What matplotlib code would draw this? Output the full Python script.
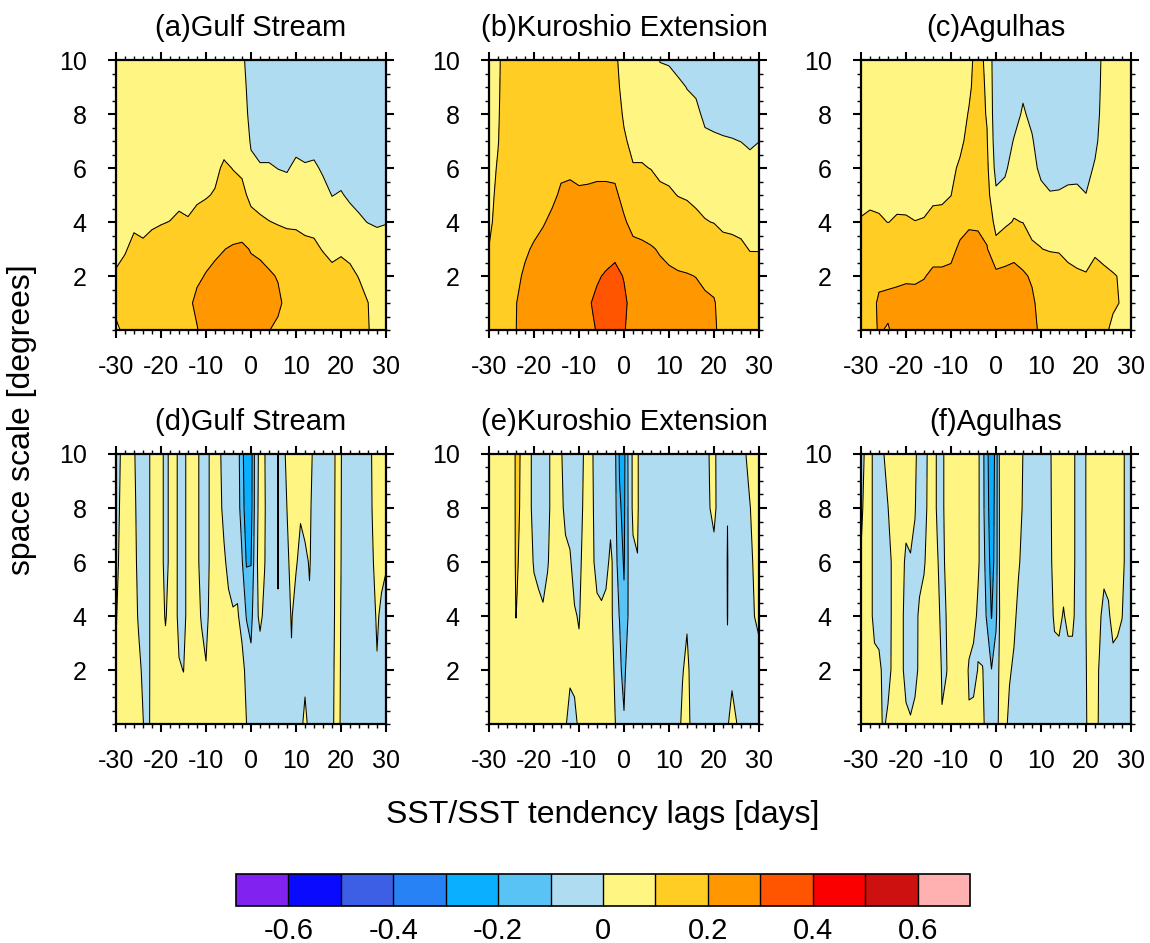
import numpy as np
import matplotlib
matplotlib.use('Agg')
import matplotlib as mpl
import matplotlib.pyplot as plt
from matplotlib.colors import ListedColormap, BoundaryNorm
from matplotlib.ticker import MultipleLocator

plt.rcParams['font.family'] = ['Liberation Sans', 'DejaVu Sans']
plt.rcParams['axes.unicode_minus'] = False

# ---------------- data ----------------
levels = [-0.7, -0.6, -0.5, -0.4, -0.3, -0.2, -0.1, 0.0, 0.1, 0.2, 0.3, 0.4, 0.5, 0.6, 0.7]
colors = ['#8222F0', '#0A0AFF', '#3C5FE6', '#2682F5', '#0AAFFF', '#5AC3F5', '#B0DCF2',
          '#FFF582', '#FFCD23', '#FF9800', '#FF5500', '#FA0000', '#CD1010', '#FFB0B0']
cbar_ticks = [-0.6, -0.4, -0.2, 0, 0.2, 0.4, 0.6]
cbar_labels = ['-0.6', '-0.4', '-0.2', '0', '0.2', '0.4', '0.6']

titles = ['(a)Gulf Stream', '(b)Kuroshio Extension', '(c)Agulhas',
          '(d)Gulf Stream', '(e)Kuroshio Extension', '(f)Agulhas']

# top row: lags every 2 days, space scales every 1 degree
lags_top = [-30, -28, -26, -24, -22, -20, -18, -16, -14, -12, -10, -8, -6, -4, -2, 0,
            2, 4, 6, 8, 10, 12, 14, 16, 18, 20, 22, 24, 26, 28, 30]
scales_top = [0, 1, 2, 3, 4, 5, 6, 7, 8, 9, 10]
# bottom row: lags every day, space scales every 2 degrees
lags_bot = [-30, -29, -28, -27, -26, -25, -24, -23, -22, -21, -20, -19, -18, -17, -16,
            -15, -14, -13, -12, -11, -10, -9, -8, -7, -6, -5, -4, -3, -2, -1, 0,
            1, 2, 3, 4, 5, 6, 7, 8, 9, 10, 11, 12, 13, 14, 15, 16, 17, 18, 19, 20,
            21, 22, 23, 24, 25, 26, 27, 28, 29, 30]
scales_bot = [0, 2, 4, 6, 8, 10]

# each inner list = one lag column, values from bottom (scale 0) to top (scale 10)
gs_top = [
    [0.09, 0.115, 0.104, 0.09, 0.08, 0.07, 0.065, 0.06, 0.055, 0.05, 0.05],
    [0.112, 0.125, 0.12, 0.095, 0.08, 0.07, 0.065, 0.06, 0.055, 0.05, 0.05],
    [0.16, 0.15, 0.135, 0.115, 0.09, 0.075, 0.07, 0.065, 0.06, 0.055, 0.05],
    [0.17, 0.16, 0.14, 0.11, 0.085, 0.075, 0.07, 0.065, 0.06, 0.055, 0.05],
    [0.175, 0.165, 0.145, 0.115, 0.094, 0.08, 0.07, 0.065, 0.06, 0.055, 0.05],
    [0.18, 0.17, 0.15, 0.125, 0.097, 0.08, 0.075, 0.07, 0.06, 0.055, 0.05],
    [0.185, 0.175, 0.16, 0.13, 0.101, 0.08, 0.075, 0.07, 0.06, 0.055, 0.05],
    [0.19, 0.18, 0.165, 0.14, 0.11, 0.085, 0.075, 0.07, 0.06, 0.055, 0.05],
    [0.185, 0.18, 0.165, 0.135, 0.105, 0.08, 0.075, 0.07, 0.06, 0.055, 0.05],
    [0.195, 0.22, 0.185, 0.15, 0.118, 0.09, 0.08, 0.07, 0.065, 0.06, 0.05],
    [0.24, 0.235, 0.205, 0.17, 0.13, 0.095, 0.085, 0.075, 0.065, 0.06, 0.055],
    [0.25, 0.245, 0.22, 0.185, 0.15, 0.105, 0.085, 0.075, 0.07, 0.06, 0.055],
    [0.26, 0.25, 0.23, 0.198, 0.175, 0.145, 0.11, 0.077, 0.07, 0.06, 0.055],
    [0.27, 0.26, 0.24, 0.21, 0.15, 0.125, 0.098, 0.08, 0.07, 0.06, 0.05],
    [0.275, 0.265, 0.245, 0.215, 0.155, 0.115, 0.09, 0.07, 0.05, 0.035, 0.02],
    [0.27, 0.255, 0.225, 0.195, 0.12, 0.085, 0.02, -0.01, -0.03, -0.04, -0.05],
    [0.25, 0.235, 0.215, 0.19, 0.11, 0.075, 0.01, -0.04, -0.05, -0.055, -0.06],
    [0.202, 0.22, 0.21, 0.17, 0.102, 0.062, 0.01, -0.04, -0.05, -0.055, -0.06],
    [0.185, 0.215, 0.195, 0.14, 0.095, 0.045, -0.002, -0.03, -0.045, -0.05, -0.055],
    [0.17, 0.18, 0.165, 0.13, 0.09, 0.04, -0.008, -0.03, -0.045, -0.05, -0.055],
    [0.165, 0.16, 0.15, 0.125, 0.09, 0.06, 0.02, -0.03, -0.045, -0.05, -0.055],
    [0.16, 0.155, 0.14, 0.115, 0.085, 0.06, 0.01, -0.04, -0.05, -0.055, -0.06],
    [0.155, 0.15, 0.135, 0.11, 0.085, 0.06, 0.015, -0.035, -0.05, -0.055, -0.06],
    [0.15, 0.14, 0.125, 0.097, 0.07, 0.03, -0.013, -0.04, -0.05, -0.055, -0.06],
    [0.14, 0.13, 0.11, 0.09, 0.04, -0.002, -0.03, -0.045, -0.05, -0.055, -0.06],
    [0.14, 0.13, 0.115, 0.094, 0.06, 0.006, -0.03, -0.045, -0.05, -0.055, -0.06],
    [0.135, 0.125, 0.11, 0.088, 0.03, -0.013, -0.04, -0.05, -0.055, -0.06, -0.06],
    [0.125, 0.115, 0.098, 0.06, 0.01, -0.02, -0.04, -0.05, -0.055, -0.06, -0.06],
    [0.103, 0.1005, 0.085, 0.05, -0.002, -0.03, -0.045, -0.05, -0.055, -0.06, -0.06],
    [0.08, 0.08, 0.07, 0.02, -0.005, -0.03, -0.045, -0.05, -0.055, -0.06, -0.06],
    [0.07, 0.07, 0.06, 0.02, -0.002, -0.03, -0.045, -0.05, -0.055, -0.06, -0.06],
]

ke_top = [
    [0.15, 0.14, 0.125, 0.102, 0.085, 0.08, 0.075, 0.07, 0.07, 0.065, 0.06],
    [0.16, 0.155, 0.145, 0.135, 0.125, 0.115, 0.106, 0.097, 0.093, 0.09, 0.088],
    [0.185, 0.18, 0.17, 0.16, 0.155, 0.15, 0.145, 0.14, 0.14, 0.138, 0.136],
    [0.199, 0.198, 0.185, 0.175, 0.165, 0.16, 0.155, 0.15, 0.145, 0.14, 0.14],
    [0.23, 0.225, 0.21, 0.19, 0.175, 0.165, 0.16, 0.155, 0.15, 0.145, 0.14],
    [0.245, 0.24, 0.23, 0.208, 0.18, 0.17, 0.165, 0.16, 0.155, 0.15, 0.145],
    [0.255, 0.25, 0.24, 0.225, 0.194, 0.175, 0.17, 0.165, 0.16, 0.155, 0.15],
    [0.26, 0.255, 0.25, 0.235, 0.215, 0.185, 0.175, 0.17, 0.165, 0.16, 0.155],
    [0.27, 0.265, 0.255, 0.245, 0.23, 0.21, 0.187, 0.18, 0.175, 0.17, 0.165],
    [0.28, 0.275, 0.265, 0.25, 0.235, 0.213, 0.19, 0.18, 0.175, 0.17, 0.165],
    [0.29, 0.285, 0.27, 0.255, 0.235, 0.208, 0.185, 0.18, 0.175, 0.17, 0.165],
    [0.295, 0.295, 0.28, 0.26, 0.24, 0.21, 0.185, 0.18, 0.175, 0.17, 0.165],
    [0.301, 0.309, 0.295, 0.27, 0.25, 0.215, 0.185, 0.18, 0.175, 0.17, 0.165],
    [0.33, 0.325, 0.305, 0.28, 0.255, 0.215, 0.185, 0.175, 0.17, 0.165, 0.16],
    [0.34, 0.335, 0.315, 0.285, 0.25, 0.215, 0.18, 0.16, 0.14, 0.125, 0.115],
    [0.31, 0.31, 0.297, 0.265, 0.21, 0.175, 0.14, 0.11, 0.09, 0.075, 0.065],
    [0.243, 0.281, 0.26, 0.222, 0.175, 0.15, 0.105, 0.08, 0.07, 0.065, 0.06],
    [0.25, 0.245, 0.235, 0.215, 0.17, 0.14, 0.105, 0.08, 0.07, 0.065, 0.06],
    [0.245, 0.24, 0.225, 0.205, 0.17, 0.135, 0.098, 0.08, 0.07, 0.06, 0.055],
    [0.24, 0.235, 0.215, 0.195, 0.16, 0.115, 0.085, 0.06, 0.04, 0.02, -0.002],
    [0.235, 0.23, 0.21, 0.185, 0.14, 0.11, 0.08, 0.055, 0.04, 0.018, -0.005],
    [0.23, 0.225, 0.205, 0.18, 0.135, 0.098, 0.08, 0.06, 0.04, 0.015, -0.025],
    [0.225, 0.22, 0.203, 0.175, 0.12, 0.095, 0.075, 0.05, 0.022, -0.002, -0.03],
    [0.22, 0.215, 0.199, 0.16, 0.115, 0.085, 0.07, 0.045, 0.016, -0.012, -0.035],
    [0.22, 0.213, 0.185, 0.15, 0.103, 0.08, 0.05, 0.015, -0.015, -0.035, -0.045],
    [0.212, 0.205, 0.18, 0.14, 0.098, 0.075, 0.045, 0.01, -0.02, -0.035, -0.045],
    [0.172, 0.172, 0.16, 0.125, 0.085, 0.06, 0.035, 0.005, -0.02, -0.035, -0.045],
    [0.165, 0.16, 0.15, 0.12, 0.083, 0.06, 0.035, 0.003, -0.025, -0.035, -0.045],
    [0.16, 0.155, 0.14, 0.112, 0.08, 0.055, 0.03, -0.001, -0.025, -0.035, -0.045],
    [0.15, 0.145, 0.13, 0.097, 0.07, 0.05, 0.025, -0.012, -0.03, -0.04, -0.05],
    [0.15, 0.145, 0.128, 0.097, 0.07, 0.05, 0.03, -0.001, -0.02, -0.03, -0.04],
]

ag_top = [
    [0.17, 0.165, 0.155, 0.135, 0.105, 0.08, 0.07, 0.065, 0.06, 0.055, 0.05],
    [0.18, 0.175, 0.165, 0.145, 0.112, 0.085, 0.075, 0.07, 0.065, 0.06, 0.055],
    [0.205, 0.21, 0.185, 0.15, 0.107, 0.085, 0.075, 0.07, 0.065, 0.06, 0.055],
    [0.195, 0.215, 0.185, 0.145, 0.099, 0.08, 0.075, 0.07, 0.065, 0.06, 0.055],
    [0.22, 0.215, 0.19, 0.15, 0.106, 0.085, 0.075, 0.07, 0.065, 0.06, 0.055],
    [0.225, 0.22, 0.192, 0.15, 0.107, 0.08, 0.075, 0.07, 0.065, 0.06, 0.055],
    [0.225, 0.22, 0.191, 0.145, 0.101, 0.08, 0.075, 0.07, 0.065, 0.06, 0.055],
    [0.23, 0.222, 0.197, 0.15, 0.104, 0.08, 0.075, 0.07, 0.065, 0.06, 0.055],
    [0.235, 0.23, 0.21, 0.18, 0.115, 0.09, 0.08, 0.075, 0.07, 0.065, 0.06],
    [0.235, 0.23, 0.21, 0.18, 0.118, 0.09, 0.08, 0.075, 0.07, 0.065, 0.06],
    [0.24, 0.235, 0.213, 0.185, 0.13, 0.099, 0.085, 0.075, 0.07, 0.065, 0.06],
    [0.255, 0.25, 0.235, 0.21, 0.18, 0.14, 0.11, 0.085, 0.075, 0.07, 0.065],
    [0.265, 0.26, 0.245, 0.225, 0.19, 0.165, 0.14, 0.12, 0.104, 0.09, 0.085],
    [0.265, 0.26, 0.245, 0.22, 0.19, 0.17, 0.155, 0.145, 0.135, 0.128, 0.122],
    [0.25, 0.245, 0.23, 0.205, 0.17, 0.135, 0.12, 0.106, 0.094, 0.09, 0.085],
    [0.24, 0.232, 0.223, 0.13, 0.07, 0.015, -0.03, -0.05, -0.06, -0.065, -0.07],
    [0.24, 0.235, 0.222, 0.16, 0.085, 0.03, -0.015, -0.04, -0.055, -0.06, -0.065],
    [0.245, 0.24, 0.215, 0.185, 0.105, 0.07, 0.04, 0.005, -0.03, -0.05, -0.06],
    [0.24, 0.232, 0.208, 0.17, 0.098, 0.07, 0.05, 0.03, 0.01, -0.015, -0.04],
    [0.215, 0.21, 0.193, 0.11, 0.08, 0.06, 0.035, 0.008, -0.02, -0.04, -0.055],
    [0.19, 0.18, 0.16, 0.101, 0.085, 0.03, -0.025, -0.045, -0.055, -0.06, -0.065],
    [0.17, 0.165, 0.145, 0.095, 0.05, 0.005, -0.03, -0.05, -0.06, -0.065, -0.065],
    [0.165, 0.16, 0.14, 0.093, 0.05, 0.007, -0.03, -0.05, -0.06, -0.065, -0.065],
    [0.16, 0.15, 0.115, 0.085, 0.05, 0.015, -0.025, -0.05, -0.06, -0.065, -0.065],
    [0.155, 0.145, 0.108, 0.08, 0.05, 0.017, -0.025, -0.05, -0.06, -0.065, -0.065],
    [0.15, 0.14, 0.104, 0.077, 0.045, 0.002, -0.03, -0.05, -0.06, -0.065, -0.065],
    [0.155, 0.145, 0.12, 0.091, 0.07, 0.045, 0.01, -0.02, -0.04, -0.05, -0.06],
    [0.115, 0.12, 0.11, 0.085, 0.07, 0.06, 0.05, 0.045, 0.04, 0.035, 0.032],
    [0.085, 0.11, 0.103, 0.08, 0.065, 0.055, 0.05, 0.045, 0.04, 0.035, 0.03],
    [0.07, 0.095, 0.096, 0.08, 0.065, 0.055, 0.05, 0.045, 0.04, 0.035, 0.03],
    [0.06, 0.07, 0.07, 0.065, 0.06, 0.05, 0.045, 0.04, 0.035, 0.03, 0.03],
]

gs_bot = [
    [0.05, 0.01, -0.01, -0.05, -0.05, -0.05],
    [0.05, 0.05, 0.05, 0.04, 0.015, 0.002],
    [0.05, 0.05, 0.05, 0.05, 0.05, 0.05],
    [0.05, 0.05, 0.05, 0.05, 0.05, 0.05],
    [0.05, 0.05, 0.05, 0.03, 0.02, 0.01],
    [0.05, 0.03, -0.0125, -0.025, -0.03, -0.04],
    [0.005, -0.02, -0.05, -0.05, -0.05, -0.05],
    [-0.045, -0.05, -0.05, -0.05, -0.05, -0.05],
    [0.05, 0.05, 0.05, 0.05, 0.05, 0.05],
    [0.05, 0.05, 0.05, 0.05, 0.05, 0.05],
    [0.05, 0.05, 0.05, 0.05, 0.05, 0.05],
    [0.05, 0.05, -0.011, -0.05, -0.05, -0.05],
    [0.05, 0.05, 0.05, 0.033, 0.033, 0.033],
    [0.05, 0.05, 0.05, 0.05, 0.05, 0.05],
    [0.05, 0.01, -0.033, -0.033, -0.033, -0.033],
    [0.05, -0.002, -0.05, -0.05, -0.05, -0.05],
    [0.05, 0.05, 0.05, 0.05, 0.05, 0.05],
    [0.05, 0.05, 0.05, 0.05, 0.05, 0.05],
    [0.05, 0.05, 0.05, 0.05, 0.05, 0.05],
    [0.05, 0.05, -0.0125, -0.075, -0.075, -0.075],
    [0.05, 0.01, -0.05, -0.05, -0.05, -0.05],
    [0.05, 0.05, 0.05, 0.021, 0.021, 0.021],
    [0.05, 0.05, 0.05, 0.05, 0.05, 0.05],
    [0.05, 0.05, 0.05, 0.05, 0.05, 0.02],
    [0.05, 0.05, 0.05, 0.03, -0.05, -0.05],
    [0.05, 0.05, 0.05, -0.05, -0.05, -0.05],
    [0.05, 0.05, 0.01, -0.05, -0.05, -0.05],
    [0.05, 0.05, 0.015, -0.05, -0.05, -0.05],
    [0.05, 0.05, -0.05, -0.09, -0.15, -0.175],
    [0.001, -0.041, -0.105, -0.21, -0.26, -0.258],
    [-0.05, -0.07, -0.13, -0.205, -0.24, -0.25],
    [-0.05, -0.05, -0.03, -0.03, -0.05, -0.05],
    [-0.05, -0.05, 0.02, 0.04, 0.04, 0.029],
    [-0.05, -0.05, -0.02, 0.005, 0.01, 0.0056],
    [-0.05, -0.05, -0.05, -0.05, -0.05, -0.05],
    [-0.05, -0.05, -0.05, -0.05, -0.05, -0.05],
    [-0.05, -0.05, -0.002, 0.002, 0.004, 0.004],
    [-0.05, -0.05, -0.05, -0.05, -0.05, -0.05],
    [-0.05, -0.05, -0.05, -0.021, 0.001, 0.033],
    [-0.05, -0.014, 0.0095, 0.03, 0.05, 0.05],
    [-0.05, -0.05, -0.05, 0.013, 0.05, 0.05],
    [-0.05, -0.05, -0.05, -0.037, 0.015, 0.05],
    [0.05, -0.05, -0.05, -0.03, 0.05, 0.05],
    [-0.05, -0.05, -0.019, 0.01, 0.025, 0.05],
    [-0.05, -0.05, -0.05, -0.05, -0.05, -0.033],
    [-0.05, -0.05, -0.05, -0.05, -0.05, -0.05],
    [-0.05, -0.05, -0.05, -0.05, -0.05, -0.05],
    [-0.05, -0.05, -0.05, -0.05, -0.05, -0.05],
    [-0.03, -0.04, -0.05, -0.05, -0.05, -0.05],
    [0.05, 0.05, 0.04, 0.035, 0.03, 0.025],
    [-0.013, -0.008, -0.003, 0.001, 0.003, 0.005],
    [-0.05, -0.05, -0.05, -0.05, -0.05, -0.05],
    [-0.05, -0.05, -0.05, -0.05, -0.05, -0.05],
    [-0.05, -0.05, -0.05, -0.05, -0.05, -0.05],
    [-0.05, -0.05, -0.05, -0.05, -0.05, -0.05],
    [-0.05, -0.05, -0.05, -0.05, -0.05, -0.05],
    [-0.05, -0.05, -0.05, -0.05, -0.05, -0.04],
    [-0.05, -0.05, -0.05, -0.01, 0.006, 0.01],
    [-0.05, -0.0108, 0.02, 0.04, 0.05, 0.05],
    [-0.05, -0.05, -0.03, 0.04, 0.05, 0.05],
    [-0.05, -0.05, -0.04, 0.01, 0.05, 0.05],
]

ke_bot = [
    [0.05, 0.05, 0.05, 0.05, 0.05, 0.05],
    [0.05, 0.05, 0.05, 0.05, 0.05, 0.05],
    [0.05, 0.05, 0.05, 0.05, 0.05, 0.05],
    [0.05, 0.05, 0.05, 0.05, 0.05, 0.05],
    [0.05, 0.05, 0.05, 0.05, 0.05, 0.05],
    [0.05, 0.05, 0.05, 0.05, 0.05, 0.05],
    [0.05, 0.05, 0.102, 0.11, 0.112, 0.1125],
    [0.05, 0.05, 0.06, 0.09, 0.097, 0.0986],
    [0.05, 0.05, 0.05, 0.05, 0.05, 0.05],
    [0.05, 0.05, 0.05, 0.05, 0.05, 0.05],
    [0.05, 0.05, 0.05, -0.0125, -0.075, -0.075],
    [0.05, 0.05, 0.05, -0.05, -0.05, -0.05],
    [0.05, 0.05, 0.017, -0.05, -0.05, -0.05],
    [0.05, 0.05, 0.05, -0.0125, -0.05, -0.05],
    [0.05, 0.05, 0.05, 0.05, 0.05, 0.05],
    [0.05, 0.05, 0.05, 0.05, 0.05, 0.05],
    [0.05, 0.05, 0.05, 0.05, 0.05, 0.01],
    [0.01, 0.05, 0.05, 0.05, -0.05, -0.04],
    [-0.04, 0.02, 0.05, 0.015, -0.05, -0.05],
    [-0.05, 0.05, 0.0127, -0.05, -0.05, -0.05],
    [0.033, 0.0317, -0.01, -0.05, -0.05, -0.05],
    [0.05, 0.05, 0.05, 0.05, 0.012, 0.001],
    [0.05, 0.05, 0.05, 0.05, 0.05, 0.05],
    [0.05, 0.05, 0.05, 0.02, 0.0125, 0.005],
    [0.05, 0.05, 0.03, -0.04, -0.05, -0.045],
    [0.05, 0.05, 0.02, -0.05, -0.05, -0.05],
    [0.05, 0.05, 0.05, -0.05, -0.05, -0.05],
    [0.05, 0.05, 0.05, 0.035, -0.05, -0.05],
    [0.005, -0.0167, -0.075, -0.06, -0.07, -0.08],
    [-0.05, -0.08, -0.102, -0.15, -0.19, -0.21],
    [-0.09, -0.13, -0.18, -0.21, -0.22, -0.23],
    [-0.05, -0.04, -0.09, -0.09, -0.085, -0.08],
    [-0.05, -0.05, -0.05, -0.02, 0.02, 0.02],
    [-0.05, -0.05, -0.05, -0.002, 0.01, 0.0095],
    [-0.05, -0.05, -0.05, -0.05, -0.05, -0.05],
    [-0.05, -0.05, -0.05, -0.05, -0.05, -0.05],
    [-0.05, -0.05, -0.05, -0.05, -0.05, -0.05],
    [-0.05, -0.05, -0.05, -0.05, -0.05, -0.05],
    [-0.05, -0.05, -0.05, -0.05, -0.05, -0.05],
    [-0.05, -0.05, -0.05, -0.05, -0.05, -0.05],
    [-0.05, -0.05, -0.05, -0.05, -0.05, -0.05],
    [-0.05, -0.05, -0.05, -0.05, -0.05, -0.05],
    [-0.05, -0.05, -0.05, -0.05, -0.05, -0.05],
    [0.0333, -0.01, -0.05, -0.05, -0.05, -0.05],
    [0.09, 0.04, -0.02, -0.05, -0.05, -0.05],
    [-0.05, -0.05, -0.05, -0.05, -0.05, -0.05],
    [-0.05, -0.05, -0.05, -0.05, -0.05, -0.05],
    [-0.05, -0.05, -0.05, -0.05, -0.05, -0.05],
    [-0.05, -0.05, -0.05, -0.05, -0.05, -0.05],
    [-0.05, -0.05, -0.05, -0.05, -0.0045, 0.0056],
    [-0.05, -0.05, -0.05, -0.05, 0.04, 0.0333],
    [-0.05, -0.05, -0.05, -0.05, -0.05, -0.05],
    [-0.05, -0.05, -0.05, -0.05, -0.05, -0.05],
    [-0.01, -0.01, 0.002, 0.004, -0.002, -0.05],
    [0.04, -0.025, -0.05, -0.05, -0.05, -0.05],
    [0.003, -0.05, -0.05, -0.05, -0.05, -0.05],
    [-0.05, -0.05, -0.05, -0.05, -0.05, -0.05],
    [-0.05, -0.05, -0.05, -0.05, -0.05, -0.005],
    [-0.05, -0.05, -0.05, -0.05, -0.005, 0.05],
    [-0.05, -0.05, 0.0005, 0.033, 0.05, 0.05],
    [-0.05, -0.05, 0.03, 0.05, 0.05, 0.05],
]

ag_bot = [
    [0.05, 0.05, 0.05, 0.01, -0.03, -0.05],
    [0.05, 0.05, 0.05, 0.05, 0.045, 0.0214],
    [0.05, 0.05, 0.05, 0.05, 0.05, 0.05],
    [0.05, 0.05, -0.05, -0.05, -0.05, -0.05],
    [0.05, 0.03, -0.05, -0.05, -0.05, -0.05],
    [-0.02, -0.03, -0.05, -0.05, -0.05, -0.005],
    [0.03, -0.05, -0.05, -0.05, -0.002, 0.045],
    [0.05, 0.027, 0.02, 0.02, 0.05, 0.05],
    [0.05, 0.05, 0.05, 0.05, 0.05, 0.05],
    [0.05, 0.05, 0.05, 0.05, 0.05, 0.05],
    [0.05, -0.075, -0.075, -0.027, 0.05, 0.05],
    [0.01, -0.05, -0.05, -0.01, 0.05, 0.05],
    [0.05, -0.05, -0.05, -0.02, 0.005, 0.015],
    [0.05, 0.033, 0.027, -0.05, -0.05, -0.035],
    [0.05, 0.05, 0.05, -0.015, -0.05, -0.05],
    [0.05, 0.05, 0.05, 0.05, 0.03, 0.0214],
    [0.05, 0.05, 0.05, 0.05, 0.05, 0.05],
    [0.05, 0.05, 0.05, 0.008, -0.0185, -0.0185],
    [0.005, -0.0088, -0.05, -0.05, -0.05, -0.05],
    [0.05, -0.005, 0.005, 0.04, 0.075, 0.075],
    [0.05, 0.05, 0.05, 0.05, 0.05, 0.05],
    [0.05, 0.05, 0.05, 0.05, 0.05, 0.05],
    [0.05, 0.05, 0.05, 0.05, 0.05, 0.05],
    [0.05, 0.05, 0.05, 0.05, 0.05, 0.05],
    [0.01, -0.0125, 0.05, 0.05, 0.05, 0.05],
    [0.05, -0.05, 0.05, 0.05, 0.05, 0.05],
    [0.05, 0.005, -0.027, 0.0233, 0.0233, 0.0233],
    [0.03, 0.005, -0.06, -0.07, -0.07, -0.07],
    [-0.05, -0.05, -0.11, -0.13, -0.16, -0.17],
    [-0.05, -0.098, -0.205, -0.25, -0.27, -0.29],
    [-0.05, -0.05, -0.12, -0.15, -0.15, -0.156],
    [0.05, 0.03, 0.03, 0.05, 0.05, 0.059],
    [0.05, 0.05, 0.05, 0.05, 0.05, 0.05],
    [-0.05, 0.02, 0.05, 0.05, 0.05, 0.05],
    [-0.05, -0.03, 0.04, 0.05, 0.05, 0.05],
    [-0.05, -0.05, -0.05, 0.02, 0.04, 0.05],
    [-0.05, -0.05, -0.05, -0.05, -0.01, -0.002],
    [-0.05, -0.05, -0.05, -0.05, -0.05, -0.05],
    [-0.05, -0.05, -0.05, -0.05, -0.05, -0.05],
    [-0.05, -0.05, -0.05, -0.05, -0.05, -0.05],
    [-0.05, -0.05, -0.05, -0.05, -0.05, -0.05],
    [-0.05, -0.05, -0.05, -0.05, -0.05, -0.05],
    [-0.05, -0.05, -0.05, -0.03, -0.02, -0.015],
    [-0.05, -0.05, 0.02, 0.05, 0.05, 0.05],
    [-0.05, -0.05, 0.03, 0.05, 0.05, 0.05],
    [-0.05, -0.05, -0.01, 0.05, 0.05, 0.05],
    [-0.05, -0.05, 0.03, 0.05, 0.05, 0.05],
    [-0.05, -0.05, 0.03, 0.05, 0.05, 0.05],
    [-0.05, -0.05, -0.05, -0.05, -0.05, -0.05],
    [-0.05, -0.05, -0.05, -0.05, -0.05, -0.05],
    [-0.01, -0.005, 0.001, 0.001, 0.002, 0.002],
    [0.05, 0.05, 0.05, 0.05, 0.05, 0.05],
    [0.05, 0.05, 0.05, 0.05, 0.05, 0.05],
    [-0.02, -0.012, 0.025, 0.05, 0.05, 0.05],
    [-0.05, -0.05, -0.05, 0.05, 0.05, 0.05],
    [-0.05, -0.05, -0.02, 0.05, 0.05, 0.05],
    [-0.05, -0.05, 0.05, 0.05, 0.05, 0.05],
    [-0.05, -0.05, 0.03, 0.05, 0.05, 0.05],
    [-0.05, -0.05, 0.003, 0.05, 0.05, 0.05],
    [-0.05, -0.05, -0.05, -0.05, -0.05, -0.05],
    [-0.05, -0.05, -0.05, -0.05, -0.05, -0.05],
]

# ---------------- figure ----------------
W, H = 1150, 943
fig = plt.figure(figsize=(W / 100, H / 100), dpi=100)
cmap = ListedColormap(colors)
norm = BoundaryNorm(levels, cmap.N)

col_left = [116, 489, 861]
row_top = [60, 454]
pw, ph = 270, 270

fields = [(gs_top, lags_top, scales_top), (ke_top, lags_top, scales_top), (ag_top, lags_top, scales_top),
          (gs_bot, lags_bot, scales_bot), (ke_bot, lags_bot, scales_bot), (ag_bot, lags_bot, scales_bot)]

for i, (cols, xs, ys) in enumerate(fields):
    r, c = divmod(i, 3)
    l, t = col_left[c], row_top[r]
    ax = fig.add_axes([l / W, 1 - (t + ph) / H, pw / W, ph / H])
    Z = np.array(cols).T
    ax.contourf(xs, ys, Z, levels=levels, colors=colors)
    ax.contour(xs, ys, Z, levels=levels, colors='k', linewidths=0.75,
               linestyles='solid', negative_linestyles='solid')
    ax.set_xlim(-30, 30)
    ax.set_ylim(0, 10)
    ax.set_xticks([-30, -20, -10, 0, 10, 20, 30])
    ax.set_xticklabels(['-30', '-20', '-10', '0', '10', '20', '30'])
    ax.set_yticks([2, 4, 6, 8, 10])
    ax.set_yticklabels(['2', '4', '6', '8', '10'])
    ax.xaxis.set_minor_locator(MultipleLocator(2))
    ax.yaxis.set_minor_locator(MultipleLocator(0.5))
    ax.tick_params(which='both', direction='out', top=True, right=True,
                   labeltop=False, labelright=False)
    ax.tick_params(which='major', length=6, width=1.5, labelsize=18)
    ax.tick_params(which='minor', length=3, width=1.0)
    ax.tick_params(axis='x', which='major', pad=12)
    ax.tick_params(axis='y', which='major', pad=15)
    for sp in ax.spines.values():
        sp.set_linewidth(1.6)
    ax.text(0.5, 1.09, titles[i], transform=ax.transAxes, ha='center', va='baseline',
            fontsize=21)

fig.text(22 / W, 1 - 420 / H, 'space scale [degrees]', rotation=90, ha='center',
         va='center', fontsize=23)
fig.text(603 / W, 1 - 815 / H, 'SST/SST tendency lags [days]', ha='center',
         va='center', fontsize=23)

cax = fig.add_axes([236 / W, 1 - 906 / H, 734 / W, 32 / H])
cb = mpl.colorbar.ColorbarBase(cax, cmap=cmap, norm=norm, boundaries=levels,
                               orientation='horizontal', ticks=cbar_ticks,
                               drawedges=True)
cb.set_ticklabels(cbar_labels)
cb.ax.minorticks_off()
cb.ax.tick_params(which='both', length=0, labelsize=21, pad=8)
cb.outline.set_linewidth(1.2)
cb.dividers.set_linewidth(1.0)

fig.savefig('out.png', dpi=100)
